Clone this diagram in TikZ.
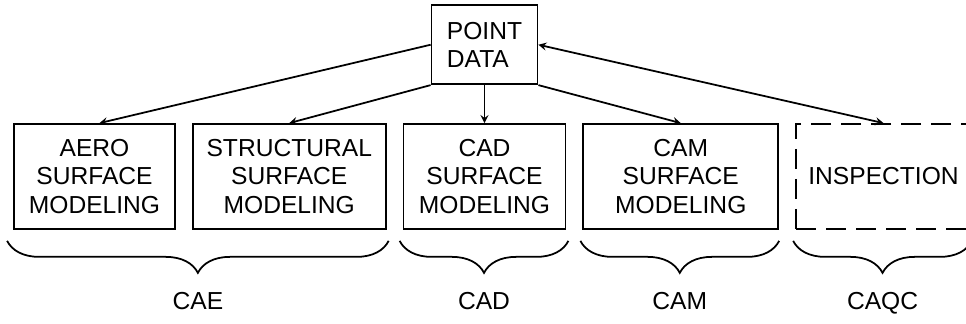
\documentclass[tikz,border=0pt]{standalone}
\usepackage{fontspec}
\setmainfont{Liberation Sans}
\usepackage{tikz}
\usetikzlibrary{arrows, positioning, calc, decorations.pathreplacing}

\begin{document}
\begin{tikzpicture}[node distance=0.32cm, font=\fontsize{14}{16}\selectfont]
\tikzstyle{box} = [rectangle, minimum height=2.1cm, align=center, draw=black, line width=1pt]
\tikzstyle{future} = [box, dash pattern=on 0.4cm off 0.2cm]
\tikzstyle{arrow} = [line width=1pt,->,>=stealth]
\tikzstyle{group} = [line width=1pt, decorate, decoration={brace, mirror, amplitude=0.64cm}]
\tikzstyle{tag} = [text height=1.6ex, text depth=0.3ex, yshift=-1.26cm]

\useasboundingbox (0,0) rectangle (19.32,6.48);

\node (aero) [box, minimum width=3.22cm] at (1.89,2.95) {AERO\\SURFACE\\MODELING};
\node (struct) [box, minimum width=3.86cm, right=of aero] {STRUCTURAL\\SURFACE\\MODELING};
\node (cad) [box, minimum width=3.24cm, right=of struct] {CAD\\SURFACE\\MODELING};
\node (cam) [box, minimum width=3.9cm, right=of cad] {CAM\\SURFACE\\MODELING};
\node (insp) [future, minimum width=3.5cm, right=of cam] {INSPECTION};

\node (point) [box, align=left, minimum width=2.12cm, minimum height=1.58cm, above=0.76cm of cad] {POINT\\DATA};

\draw [arrow] (point.west) -- ([xshift=0.1cm]aero.north);
\draw [arrow] (point.south west) -- (struct.north);
\draw [arrow] (point.south) -- (point.south |- cad.north);
\draw [arrow] (point.south east) -- (cam.north);
\draw [arrow, <->] (point.east) -- (insp.north);

\draw [group] ($(aero.south west)+(-0.12,-0.22)$) -- node[tag] (cae) {CAE} ($(struct.south east)+(0.04,-0.22)$);
\draw [group] ($(cad.south west)+(-0.06,-0.22)$) -- node[tag] (cadlabel) {CAD} ($(cad.south east)+(0.04,-0.22)$);
\draw [group] ($(cam.south west)+(-0.04,-0.22)$) -- node[tag] (camlabel) {CAM} ($(cam.south east)+(0.0,-0.22)$);
\draw [group] ($(insp.south west)+(-0.04,-0.22)$) -- node[tag] (caqc) {CAQC} ($(insp.south east)+(0.0,-0.22)$);

\end{tikzpicture}
\end{document}
